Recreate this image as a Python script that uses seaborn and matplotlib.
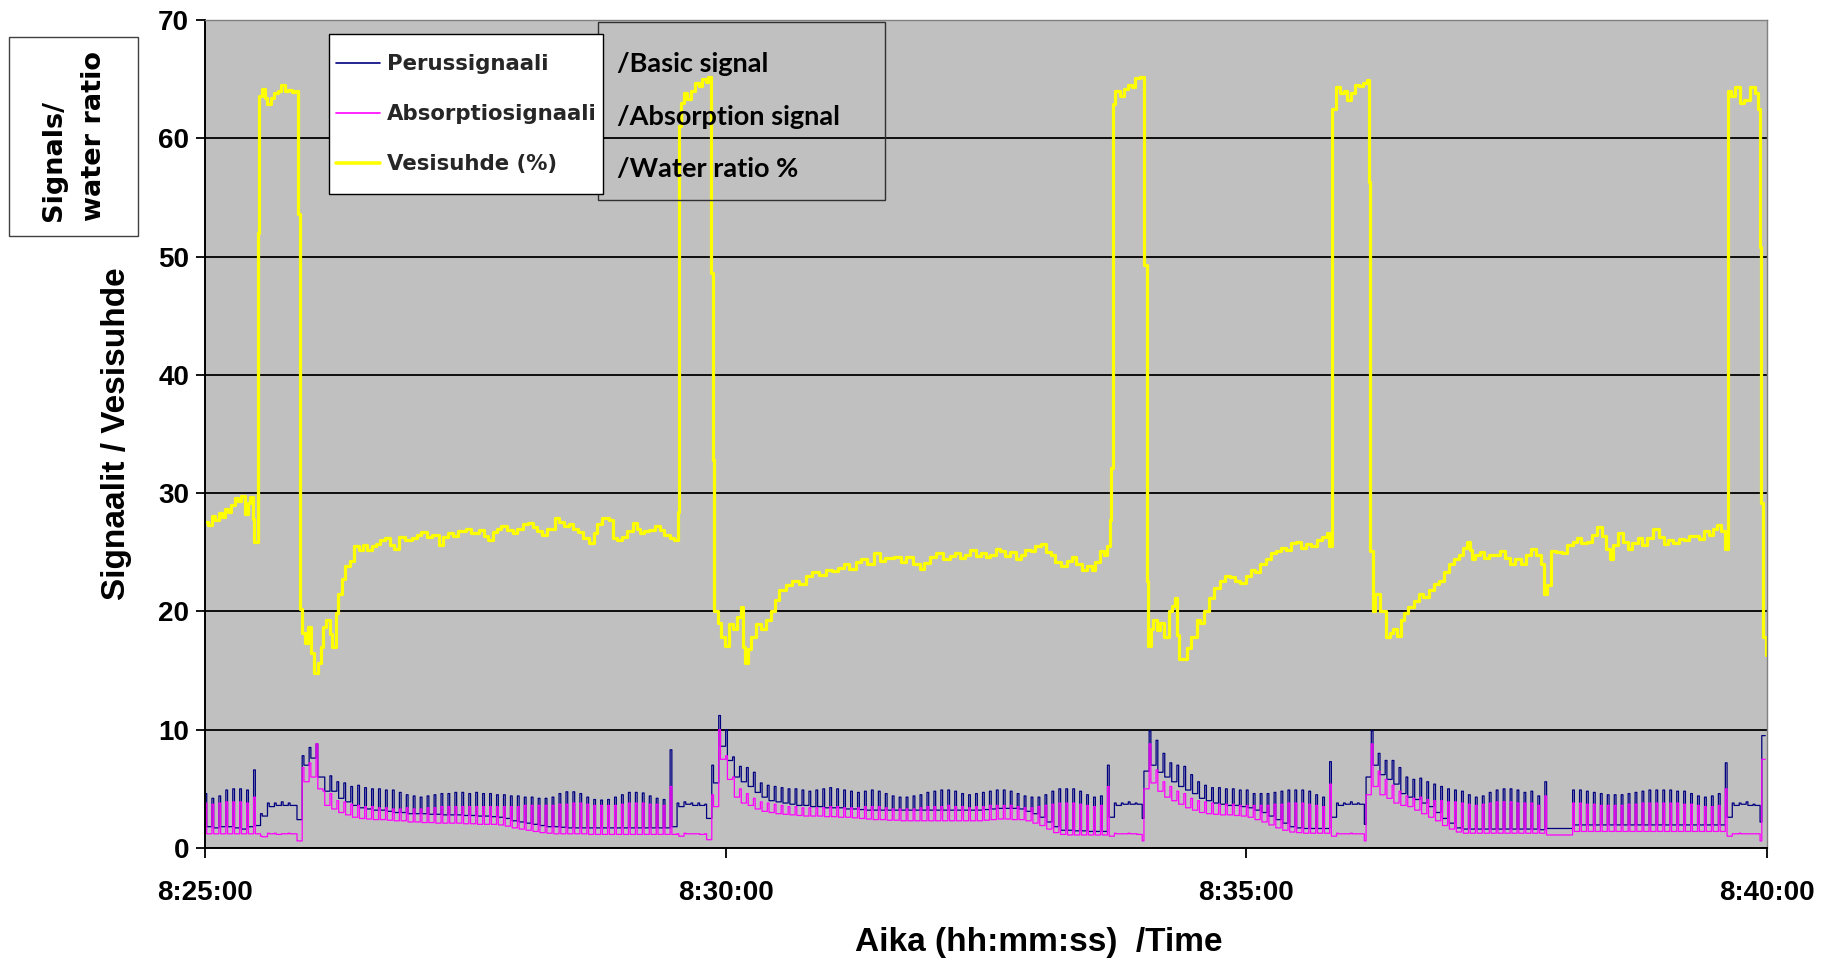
import numpy as np
import matplotlib
matplotlib.use("Agg")
import matplotlib.pyplot as plt
from matplotlib.patches import Rectangle
from matplotlib.lines import Line2D
import seaborn as sns

# ---------------------------------------------------------------- data
time_labels = ["8:25:00", "8:30:00", "8:35:00", "8:40:00"]
y_ticks = [0, 10, 20, 30, 40, 50, 60, 70]

series_names = ["Perussignaali", "Absorptiosignaali", "Vesisuhde (%)"]
series_translations = ["/Basic signal", "/Absorption signal", "/Water ratio %"]

# Signals are logged in 4-second measuring cycles: the first second of a
# cycle holds the pulse reading, the remaining three seconds the level.
basic_pulse = [
    4.6, 4.2, 4.4, 4.9, 5.0, 5.0, 4.9, 6.6, 2.9, 3.8, 3.8, 3.9, 3.8, 3.6, 7.8,
    8.5, 8.8, 6.0, 6.1, 5.6, 5.5, 5.2, 5.3, 5.1, 5.0, 5.0, 4.9, 4.9, 4.7, 4.5,
    4.4, 4.3, 4.4, 4.5, 4.6, 4.6, 4.7, 4.7, 4.6, 4.7, 4.6, 4.6, 4.5, 4.5, 4.4,
    4.4, 4.3, 4.3, 4.2, 4.2, 4.3, 4.6, 4.75, 4.75, 4.6, 4.3, 4.1, 4.05, 4.1, 4.3,
    4.5, 4.7, 4.7, 4.65, 4.4, 4.2, 4.1, 8.3, 3.8, 3.9, 3.8, 3.8, 3.7, 7.0, 11.2,
    10.0, 7.7, 6.9, 6.8, 6.4, 5.5, 5.3, 5.2, 5.1, 5.0, 5.0, 4.9, 4.8, 4.9, 5.0,
    5.1, 5.0, 4.9, 4.8, 4.7, 4.8, 4.9, 4.8, 4.6, 4.4, 4.3, 4.3, 4.4, 4.5, 4.7,
    4.8, 4.9, 4.9, 4.8, 4.6, 4.5, 4.6, 4.7, 4.8, 4.9, 4.9, 4.8, 4.6, 4.4, 4.3,
    4.3, 4.5, 4.8, 5.0, 5.0, 5.0, 4.8, 4.5, 4.3, 4.4, 7.0, 3.8, 3.8, 3.9, 3.8,
    2.5, 9.9, 9.1, 8.0, 7.2, 7.0, 6.9, 6.2, 5.6, 5.3, 5.1, 5.1, 5.0, 5.0, 4.9,
    4.9, 4.6, 4.6, 4.6, 4.7, 4.8, 4.9, 4.9, 4.9, 4.8, 4.5, 4.3, 7.3, 3.8, 3.8,
    3.9, 3.8, 2.0, 9.9, 8.0, 7.4, 7.4, 6.8, 6.0, 5.8, 5.9, 5.6, 5.4, 5.2, 5.0,
    4.9, 4.8, 4.5, 4.3, 4.4, 4.7, 4.9, 5.0, 5.0, 4.9, 4.7, 4.8, 4.4, 5.6, 1.65,
    1.65, 1.65, 4.9, 4.9, 4.8, 4.7, 4.6, 4.5, 4.5, 4.5, 4.6, 4.7, 4.8, 4.9, 4.9,
    4.9, 4.9, 4.8, 4.8, 4.6, 4.4, 4.3, 4.4, 4.6, 7.2, 3.8, 3.8, 3.9, 3.7, 2.2,
]
basic_level = [
    1.8, 1.7, 1.8, 1.8, 1.7, 1.6, 1.8, 1.9, 2.7, 3.5, 3.6, 3.6, 3.6, 2.4, 7.0,
    7.6, 6.0, 4.8, 4.8, 4.2, 3.9, 3.6, 3.4, 3.3, 3.2, 3.2, 3.1, 3.0, 3.0, 2.9,
    2.9, 2.9, 2.85, 2.85, 2.8, 2.8, 2.8, 2.75, 2.75, 2.7, 2.7, 2.65, 2.6, 2.5, 2.3,
    2.2, 2.1, 2.0, 1.9, 1.8, 1.8, 1.75, 1.7, 1.7, 1.7, 1.7, 1.7, 1.7, 1.7, 1.7,
    1.7, 1.7, 1.7, 1.7, 1.7, 1.7, 1.7, 1.8, 3.5, 3.7, 3.6, 3.6, 2.5, 5.5, 8.6,
    7.4, 6.0, 5.6, 5.2, 4.7, 4.3, 4.0, 3.9, 3.8, 3.7, 3.6, 3.6, 3.5, 3.5, 3.4,
    3.4, 3.4, 3.3, 3.3, 3.25, 3.2, 3.2, 3.2, 3.2, 3.2, 3.2, 3.2, 3.2, 3.2, 3.2,
    3.2, 3.2, 3.2, 3.2, 3.2, 3.2, 3.2, 3.25, 3.3, 3.35, 3.35, 3.35, 3.3, 3.1, 2.9,
    2.6, 2.2, 1.8, 1.5, 1.5, 1.45, 1.45, 1.4, 1.4, 1.4, 2.6, 3.6, 3.7, 3.7, 3.7,
    6.5, 7.0, 6.4, 6.0, 5.6, 5.2, 4.9, 4.6, 4.2, 4.0, 3.8, 3.7, 3.6, 3.6, 3.5,
    3.4, 3.2, 3.0, 2.7, 2.4, 2.1, 1.8, 1.7, 1.65, 1.65, 1.65, 1.65, 2.6, 3.6, 3.7,
    3.7, 3.7, 6.0, 7.0, 6.2, 5.8, 5.4, 4.6, 4.3, 4.1, 3.8, 3.5, 3.0, 2.5, 2.1,
    1.7, 1.6, 1.6, 1.6, 1.6, 1.6, 1.6, 1.6, 1.6, 1.6, 1.6, 1.6, 1.55, 1.65, 1.65,
    1.65, 1.65, 1.95, 1.95, 1.95, 1.95, 1.95, 1.95, 1.95, 1.95, 1.95, 1.95, 1.95, 1.95, 1.95,
    1.95, 1.95, 1.95, 1.95, 1.95, 1.95, 1.95, 1.95, 1.95, 2.6, 3.6, 3.7, 3.6, 3.6, 9.5,
]
absorption_pulse = [
    3.8, 3.7, 3.8, 3.9, 3.9, 3.9, 3.8, 4.3, 1.0, 1.25, 1.25, 1.2, 1.25, 1.2, 6.8,
    7.2, 8.8, 4.8, 4.6, 4.0, 3.9, 3.7, 3.6, 3.5, 3.5, 3.4, 3.4, 3.3, 3.3, 3.4,
    3.3, 3.3, 3.4, 3.4, 3.5, 3.5, 3.5, 3.5, 3.5, 3.5, 3.5, 3.5, 3.5, 3.5, 3.5,
    3.5, 3.6, 3.6, 3.6, 3.6, 3.6, 3.7, 3.7, 3.8, 3.8, 3.7, 3.6, 3.6, 3.6, 3.6,
    3.7, 3.8, 3.8, 3.8, 3.7, 3.7, 3.6, 5.2, 1.2, 1.25, 1.2, 1.2, 1.2, 4.5, 10.0,
    7.8, 6.0, 5.0, 4.6, 4.2, 3.9, 3.8, 3.7, 3.6, 3.5, 3.5, 3.4, 3.4, 3.4, 3.4,
    3.5, 3.5, 3.4, 3.4, 3.4, 3.5, 3.5, 3.5, 3.4, 3.3, 3.3, 3.3, 3.3, 3.4, 3.5,
    3.5, 3.5, 3.6, 3.5, 3.5, 3.4, 3.5, 3.5, 3.6, 3.6, 3.6, 3.6, 3.5, 3.4, 3.4,
    3.5, 3.6, 3.7, 3.8, 3.8, 3.8, 3.7, 3.6, 3.5, 3.6, 5.2, 1.25, 1.2, 1.25, 1.2,
    0.6, 8.8, 6.6, 5.6, 5.2, 4.8, 4.6, 4.2, 4.0, 3.9, 3.8, 3.7, 3.7, 3.7, 3.6,
    3.6, 3.6, 3.6, 3.6, 3.7, 3.7, 3.8, 3.8, 3.8, 3.7, 3.6, 3.5, 5.4, 1.25, 1.2,
    1.25, 1.2, 0.6, 8.8, 6.5, 5.8, 5.3, 4.8, 4.4, 4.2, 4.3, 4.1, 4.0, 4.0, 3.9,
    3.9, 3.8, 3.7, 3.6, 3.7, 3.8, 3.9, 3.9, 3.9, 3.8, 3.8, 3.8, 3.6, 4.4, 1.1,
    1.1, 1.1, 3.8, 3.8, 3.7, 3.7, 3.6, 3.6, 3.6, 3.6, 3.7, 3.7, 3.8, 3.8, 3.8,
    3.8, 3.8, 3.8, 3.7, 3.7, 3.6, 3.5, 3.5, 3.6, 5.0, 1.2, 1.25, 1.2, 1.2, 0.6,
]
absorption_level = [
    1.2, 1.2, 1.2, 1.2, 1.2, 1.2, 1.2, 1.2, 0.95, 1.2, 1.15, 1.2, 1.2, 0.6, 5.6,
    6.0, 5.0, 3.6, 3.3, 3.0, 2.8, 2.6, 2.5, 2.45, 2.4, 2.4, 2.35, 2.3, 2.3, 2.2,
    2.2, 2.15, 2.15, 2.1, 2.1, 2.1, 2.1, 2.05, 2.05, 2.0, 2.0, 2.0, 1.95, 1.85, 1.7,
    1.6, 1.5, 1.4, 1.3, 1.25, 1.2, 1.2, 1.2, 1.2, 1.2, 1.15, 1.15, 1.15, 1.15, 1.15,
    1.15, 1.15, 1.15, 1.15, 1.15, 1.15, 1.15, 1.15, 1.0, 1.2, 1.2, 1.15, 0.7, 3.5, 7.5,
    5.8, 4.3, 3.8, 3.6, 3.3, 3.1, 3.0, 2.9, 2.85, 2.8, 2.75, 2.7, 2.7, 2.7, 2.65,
    2.65, 2.6, 2.6, 2.55, 2.5, 2.45, 2.4, 2.4, 2.35, 2.35, 2.3, 2.3, 2.3, 2.3, 2.3,
    2.3, 2.3, 2.3, 2.3, 2.3, 2.3, 2.3, 2.35, 2.4, 2.45, 2.45, 2.4, 2.4, 2.3, 2.1,
    1.9, 1.6, 1.3, 1.15, 1.1, 1.1, 1.1, 1.1, 1.1, 1.1, 1.0, 1.2, 1.2, 1.2, 1.15,
    5.0, 5.5, 4.8, 4.3, 4.0, 3.7, 3.4, 3.2, 3.0, 2.9, 2.85, 2.8, 2.8, 2.75, 2.7,
    2.6, 2.4, 2.2, 1.95, 1.7, 1.5, 1.35, 1.3, 1.25, 1.25, 1.25, 1.25, 1.0, 1.2, 1.2,
    1.2, 1.2, 4.5, 5.2, 4.5, 4.2, 3.8, 3.6, 3.5, 3.2, 2.9, 2.6, 2.3, 1.9, 1.6,
    1.35, 1.25, 1.25, 1.25, 1.25, 1.25, 1.25, 1.25, 1.25, 1.25, 1.25, 1.25, 1.25, 1.1, 1.1,
    1.1, 1.1, 1.4, 1.4, 1.4, 1.4, 1.4, 1.4, 1.4, 1.4, 1.4, 1.4, 1.4, 1.4, 1.4,
    1.4, 1.4, 1.4, 1.4, 1.4, 1.4, 1.4, 1.4, 1.4, 1.0, 1.2, 1.2, 1.2, 1.2, 7.5,
]

# Water ratio (%): readings in seconds after the start of the run
water_time = [
    0, 2, 4, 6, 8, 10, 11.5, 13, 15, 17, 19, 21, 23, 24.5, 26, 27.5, 28.5,
    30.8, 31.4, 33, 34.5, 36, 38, 40, 42, 44, 46, 48, 50, 52, 53.8,
    54.8, 56, 57.5, 59.5, 61.3, 62.8, 65, 66.6, 68, 70, 71.8, 73, 75.2, 76.9,
    78.7, 80.8, 83.3, 85.9, 88.5, 91, 93.6, 96, 98.8, 101, 103.9, 106.5, 109.1,
    111.6, 115, 119.3, 122, 124.5, 128, 131, 134.8, 137, 139.9, 143, 146, 150.2,
    153, 155.4, 158, 160.5, 163.1, 166, 168.5, 170.8, 174, 177.2, 180, 183.4,
    186.2, 189, 191.5, 194, 197, 201.4, 204.2, 207, 209.5, 212, 215, 218, 221,
    224, 226, 228.7, 232.5, 235.1, 237.5, 240.2, 243, 246.7, 249, 250.5, 253,
    255.7, 259.3, 262.1, 264.5, 266, 268, 270.5, 272.4,
    272.9, 274.5, 276, 278, 280, 282.3, 284.5, 286.5, 288.5, 290, 291.3, 292.6,
    293.5, 295.5, 297.5, 299.9, 302, 304.3, 306.5, 308.8, 310, 311.1, 313, 314.6,
    317.5, 320.5, 323.5, 326.4, 328.5, 330.8, 334.5, 338.2, 342, 346, 349.9, 354,
    358, 361, 364.6, 368, 371, 375, 378, 381.5, 385.2, 389, 392, 397, 401, 404,
    408, 411.7, 414, 417.5, 421, 425, 429, 432, 435, 438.1, 441, 444, 447, 450,
    452.3, 455.8, 458.2, 461, 464, 467, 470, 472.5, 475.8, 478, 481.7, 484.5,
    487.6, 490, 493.5, 496.5, 499.3, 502, 505.2, 508, 511.1, 513, 515.5, 518, 520,
    521.4, 522.3, 522.9, 524.3, 527.3, 529.5, 531.7, 534, 536.1, 539, 541.3,
    542.6, 543.6, 545, 546.4, 548.5, 550.5, 552.3, 555.2, 557, 558.7, 560, 561.1,
    564, 566, 568.4, 571.4, 573.5, 575.8, 578.7, 581.5, 584.6, 587.5, 590.5,
    593.5, 596.4, 600, 602.5, 605.2, 608, 611.1, 614, 617, 620, 623, 625.5, 628.7,
    631.5, 634.5, 637.5, 640.5, 643.5, 646.3, 647.8,
    649.6, 651.5, 654, 656, 658.1, 660.5, 662.5, 665, 667.5, 669.3, 670.4, 671.3,
    672.8, 674.3, 677.2, 680.2, 682.5, 684.6, 687, 689, 691, 693.4, 696.5, 699.3,
    702, 705.1, 708, 711, 714, 716.9, 719.5, 722.8, 725, 727.2, 729, 730.1, 732,
    734.5, 737, 740, 743.4, 746.3, 749, 752.2, 755, 758.1, 761, 764, 767, 769.8,
    771.5, 773.5, 775.7, 778.5, 781.6, 785, 788, 790.4, 793, 796.3, 799, 802.2,
    805, 807.5, 809.5, 811.5, 814, 817, 819.8, 822.5, 825.7, 828, 831, 834.5,
    837.5, 840.4, 843, 846, 849.2, 852, 855, 858, 861, 863.9, 866.5, 869, 871.3,
    873.5, 875.7, 877.3, 879, 881.5, 884.5, 887, 890.4, 893, 894.8, 895.7, 896.8,
    897.7, 899.2, 900,
]
water_ratio = [
    27.6, 27.3, 28.1, 27.7, 28.3, 28.0, 28.7, 28.4, 29.0, 29.6, 29.3, 29.8, 28.2,
    29.2, 29.7, 27.8, 25.9,
    52.0, 63.6, 64.2, 63.4, 62.9, 63.4, 63.8, 64.0, 64.5, 64.0, 64.1, 63.9, 64.0,
    53.6,
    20.2, 18.2, 17.3, 18.7, 16.5, 14.8, 15.6, 17.0, 18.7, 19.3, 18.1, 17.0, 19.9,
    21.5, 22.7, 23.8, 24.3, 25.5, 25.2, 25.6, 25.2, 25.5, 25.7, 26.0, 26.2, 25.6,
    25.3, 26.3, 26.0, 26.2, 26.5, 26.7, 26.3, 26.5, 25.6, 26.3, 26.6, 26.4, 26.8,
    27.0, 26.6, 26.6, 26.9, 26.4, 26.0, 26.7, 27.0, 27.2, 26.9, 26.6, 27.0, 27.4,
    27.5, 27.1, 26.8, 26.5, 27.0, 27.9, 27.6, 27.2, 27.4, 27.0, 26.7, 26.2, 25.8,
    26.6, 27.4, 27.9, 27.7, 26.2, 26.0, 26.3, 26.8, 27.5, 27.0, 26.6, 26.8, 26.9,
    27.2, 26.9, 26.5, 26.5, 26.2, 26.0, 28.4,
    61.0, 63.0, 63.8, 63.3, 64.0, 64.7, 64.4, 65.0, 64.8, 65.2, 48.6, 32.8,
    20.0, 19.0, 17.8, 17.1, 18.9, 18.5, 19.5, 20.4, 17.0, 15.6, 16.8, 17.8, 18.9,
    18.5, 19.3, 20.0, 21.0, 21.8, 22.2, 22.6, 22.3, 23.0, 23.3, 23.1, 23.5, 23.4,
    23.7, 24.0, 23.6, 24.2, 24.4, 24.0, 24.9, 24.3, 24.5, 24.6, 24.2, 24.6, 24.0,
    23.6, 24.1, 24.6, 24.9, 24.4, 24.7, 24.9, 24.5, 24.8, 25.2, 24.7, 24.9, 24.6,
    24.8, 25.3, 25.1, 24.7, 25.0, 24.4, 24.8, 25.2, 25.1, 25.5, 25.7, 25.0, 24.8,
    24.2, 23.8, 24.3, 24.6, 24.0, 23.5, 23.8, 23.5, 24.2, 25.1, 24.8, 25.5, 27.7,
    32.1, 62.9, 64.0, 63.6, 64.2, 64.5, 64.3, 65.1, 65.2, 49.3,
    22.6, 17.1, 18.5, 19.3, 18.4, 19.0, 17.8, 20.0, 20.5, 21.1, 18.0, 16.0, 16.0,
    16.9, 17.8, 19.3, 19.0, 20.0, 21.1, 22.0, 22.6, 23.0, 22.9, 22.6, 22.4, 23.0,
    23.5, 23.3, 24.0, 24.4, 24.9, 25.1, 25.4, 25.2, 25.8, 25.9, 25.4, 25.7, 25.5,
    26.0, 26.3, 26.6, 25.5,
    62.5, 64.3, 63.8, 64.0, 63.2, 63.8, 64.5, 64.4, 64.7, 64.9, 56.3, 25.1,
    20.0, 21.5, 20.0, 17.8, 18.2, 18.5, 17.9, 19.3, 19.9, 20.4, 20.9, 21.5, 21.2,
    21.8, 22.3, 22.6, 23.3, 24.0, 24.4, 24.8, 25.4, 25.9, 25.2, 24.4, 24.8, 25.0,
    24.5, 24.8, 24.8, 25.1, 24.5, 24.0, 24.4, 24.0, 24.8, 25.3, 24.8, 24.0, 21.5,
    22.2, 25.1, 25.0, 24.9, 25.6, 25.9, 26.2, 25.8, 25.9, 26.5, 27.1, 26.4, 25.3,
    24.4, 25.6, 26.6, 25.9, 25.3, 25.8, 26.2, 25.6, 26.2, 27.0, 26.3, 25.7, 26.0,
    25.8, 26.1, 26.0, 26.4, 26.4, 26.1, 26.8, 26.5, 27.0, 27.3, 26.8, 25.3, 64.0,
    63.6, 64.3, 63.0, 63.2, 64.3, 63.8, 62.5, 50.8, 29.2, 17.8, 16.3, 16.8,
]

assert len(basic_pulse) == len(basic_level) == 225
assert len(absorption_pulse) == len(absorption_level) == 225
assert len(water_time) == len(water_ratio)

# ---------------------------------------------------------------- helpers
def to_seconds(label):
    h, m, s = (int(p) for p in label.split(":"))
    return 3600 * h + 60 * m + s


def expand_cycles(pulse, level):
    pulse = np.asarray(pulse, dtype=float)
    level = np.asarray(level, dtype=float)
    return np.column_stack([pulse, level, level, level]).ravel()


start = to_seconds(time_labels[0])
tick_pos = [to_seconds(lbl) - start for lbl in time_labels]

basic = expand_cycles(basic_pulse, basic_level)
absorption = expand_cycles(absorption_pulse, absorption_level)
sig_t = np.arange(basic.size, dtype=float)

NAVY = "#000080"
MAGENTA = "#FF00FF"
YELLOW = "#FFFF00"
PLOT_BG = "#C0C0C0"

# ---------------------------------------------------------------- figure
sns.set_theme(style="white")
plt.rcParams["font.family"] = ["Liberation Sans", "DejaVu Sans"]
plt.rcParams["font.weight"] = "bold"

W, H = 1835, 961
fig = plt.figure(figsize=(W / 100, H / 100), dpi=100)
fig.patch.set_facecolor("white")
ax = fig.add_axes([205 / W, 113 / H, 1562 / W, 828 / H])
ax.set_facecolor(PLOT_BG)

sns.lineplot(x=sig_t, y=basic, ax=ax, color=NAVY, lw=0.9,
             drawstyle="steps-post", estimator=None, sort=False,
             errorbar=None, legend=False)
sns.lineplot(x=sig_t, y=absorption, ax=ax, color=MAGENTA, lw=0.9,
             drawstyle="steps-post", estimator=None, sort=False,
             errorbar=None, legend=False)
sns.lineplot(x=water_time, y=water_ratio, ax=ax, color=YELLOW, lw=2.3,
             drawstyle="steps-post", estimator=None, sort=False,
             errorbar=None, legend=False)

ax.set_xlim(tick_pos[0], tick_pos[-1])
ax.set_ylim(y_ticks[0], y_ticks[-1])
ax.set_xticks(tick_pos)
ax.set_xticklabels(time_labels)
ax.set_yticks(y_ticks)
ax.set_yticklabels([str(v) for v in y_ticks])

ax.set_axisbelow(True)
ax.yaxis.grid(True, color="black", lw=1.3)
ax.xaxis.grid(False)

for side in ("left", "bottom"):
    ax.spines[side].set_color("black")
    ax.spines[side].set_linewidth(1.4)
for side in ("top", "right"):
    ax.spines[side].set_color("#808080")
    ax.spines[side].set_linewidth(1.0)

ax.tick_params(axis="y", which="major", direction="out", length=6.5,
               width=1.3, color="black", pad=5, labelsize=20)
ax.tick_params(axis="x", which="major", direction="out", length=7,
               width=1.3, color="black", pad=16, labelsize=20)
ax.tick_params(left=True, bottom=True)
for lbl in ax.get_xticklabels() + ax.get_yticklabels():
    lbl.set_fontweight("bold")
    lbl.set_color("black")

ax.set_ylabel("Signaalit / Vesisuhde", fontsize=24, fontweight="bold",
              color="black")
ax.yaxis.set_label_coords((117 - 205) / 1562, 0.5)
ax.yaxis.label.set_verticalalignment("center")

ax.set_xlabel("Aika (hh:mm:ss)  /Time", fontsize=24, fontweight="bold",
              color="black")
ax.xaxis.set_label_coords((1039 - 205) / 1562, (848 - 942) / 828)
ax.xaxis.label.set_verticalalignment("center")

# ---------------------------------------------------------------- legend
def fig_rect(x0, y0, x1, y1, **kw):
    r = Rectangle((x0 / W, 1 - y1 / H), (x1 - x0) / W, (y1 - y0) / H,
                  transform=fig.transFigure, **kw)
    fig.add_artist(r)
    return r

# translation box (outline only) and the white legend frame over it
fig_rect(598, 22, 885, 200, facecolor="none", edgecolor="#303030",
         lw=1.0, zorder=4)
fig_rect(329, 34, 603, 194, facecolor="white", edgecolor="black",
         lw=1.0, zorder=4.5)

handles = [
    Line2D([], [], color=NAVY, lw=1.2),
    Line2D([], [], color=MAGENTA, lw=1.2),
    Line2D([], [], color=YELLOW, lw=2.6),
]
leg = fig.legend(handles, series_names, loc="upper left",
                 bbox_to_anchor=(336 / W, 1 - 54 / H),
                 bbox_transform=fig.transFigure, frameon=False,
                 borderpad=0, borderaxespad=0, handlelength=2.05,
                 handletextpad=0.33, labelspacing=1.42,
                 prop={"family": "DejaVu Sans", "weight": "bold",
                       "size": 15.3})
leg.set_zorder(6)

row_y = [64, 117, 169]
for text, yy in zip(series_translations, row_y):
    fig.text(617 / W, 1 - yy / H, text, ha="left", va="center",
             fontsize=19.5, fontweight="bold", family="Lato",
             color="black", zorder=6)

# side caption box
fig_rect(9, 37, 138, 236, facecolor="white", edgecolor="#404040",
         lw=1.0, zorder=4)
fig.text(74 / W, 1 - 136 / H, "Signals/\nwater ratio", rotation=90,
         ha="center", va="center", multialignment="left", linespacing=1.7,
         fontsize=19.5, fontweight="bold", family="DejaVu Sans",
         color="black", zorder=6)

fig.savefig("out.png", dpi=100, facecolor="white")
